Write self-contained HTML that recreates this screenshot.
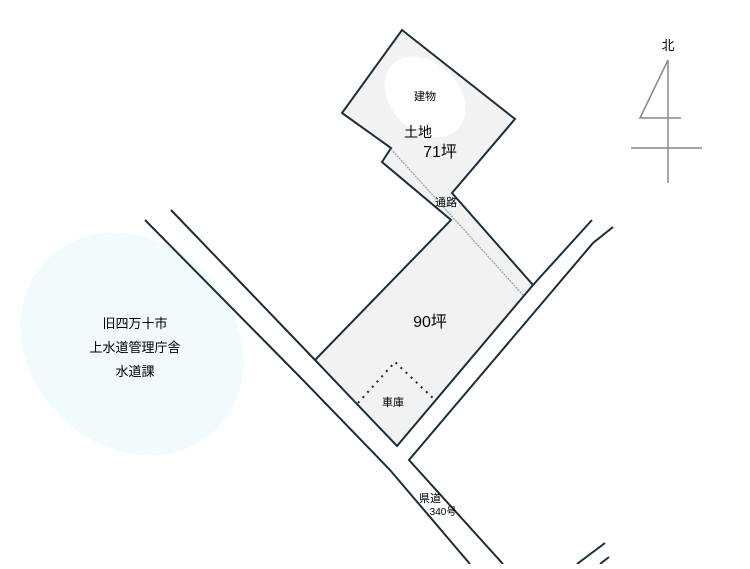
<!DOCTYPE html><html><head><meta charset="utf-8"><style>body{margin:0;background:#fff}svg text{font-family:"Liberation Sans","Noto Sans CJK JP",sans-serif;fill:#000}</style></head><body>
<svg width="750" height="564" viewBox="0 0 750 564">
<ellipse cx="132" cy="344" rx="120" ry="102" transform="rotate(45 132 344)" fill="#f0fbfd"/>
<text x="135" y="328" font-size="13" text-anchor="middle">旧四万十市</text>
<text x="135" y="352" font-size="13" text-anchor="middle">上水道管理庁舎</text>
<text x="135" y="376" font-size="13" text-anchor="middle">水道課</text>
<g stroke="#1a2e3a" stroke-width="2" fill="#f2f2f2">
<polygon points="402,30 515,119 452,193 533,285 397,446 315,360 451,220 382,162 391,148 342,113"/>
</g>
<ellipse cx="425" cy="97" rx="46" ry="34" transform="rotate(45 425 97)" fill="#fff"/>
<line x1="391" y1="149" x2="523" y2="295" stroke="#8aa0b0" stroke-width="1.2" stroke-dasharray="2,1"/>
<polyline points="358,403 395,362 435,400" fill="none" stroke="#222" stroke-width="2" stroke-dasharray="2,5"/>
<g stroke="#1a2e3a" stroke-width="2" fill="none">
<polyline points="171,210 315,360"/>
<polyline points="145,220 300,377 390,470 470,564"/>
<polyline points="533,285 592,220"/>
<polyline points="613,227 593,243 409,460 503,564"/>
<line x1="577" y1="564" x2="605" y2="543"/>
<line x1="600" y1="564" x2="609" y2="557"/>
</g>
<text x="425" y="100" font-size="11" text-anchor="middle">建物</text>
<text x="418" y="137" font-size="14" text-anchor="middle">土地</text>
<text x="440" y="157" font-size="16" text-anchor="middle">71坪</text>
<text x="446" y="206" font-size="11" text-anchor="middle">通路</text>
<text x="430" y="327" font-size="16" text-anchor="middle">90坪</text>
<text x="393" y="406" font-size="11" text-anchor="middle">車庫</text>
<text x="430" y="502" font-size="11" text-anchor="middle">県道</text>
<text x="443" y="515" font-size="10" text-anchor="middle">340号</text>
<g stroke="#888" stroke-width="1.5" fill="none">
<line x1="668" y1="60" x2="668" y2="183"/>
<polyline points="668,60 640,118 681,118"/>
<line x1="631" y1="148" x2="702" y2="148"/>
</g>
<text x="668" y="50" font-size="13" text-anchor="middle">北</text>
</svg></body></html>
